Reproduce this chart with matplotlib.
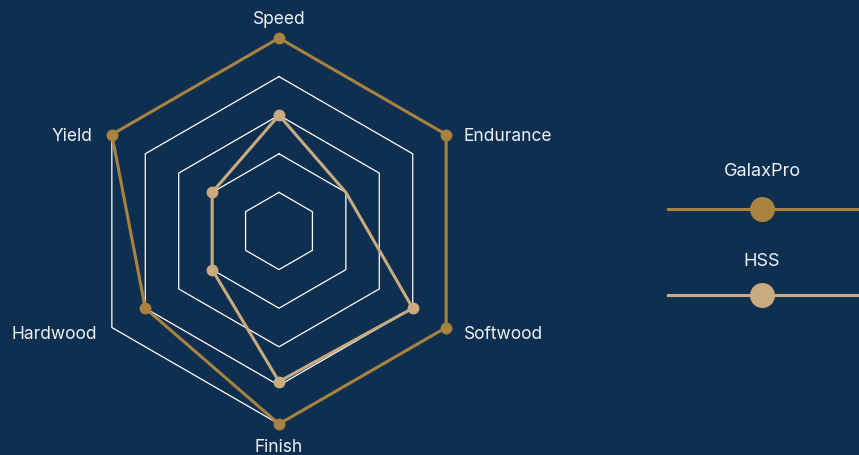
import numpy as np
import matplotlib
matplotlib.use("Agg")
import matplotlib.pyplot as plt
from matplotlib.lines import Line2D

plt.rcParams['font.family'] = ['Inter', 'DejaVu Sans']

categories = ["Speed", "Endurance", "Softwood", "Finish", "Hardwood", "Yield"]
galaxpro = [5, 5, 5, 5, 4, 5]
hss = [3, 2, 4, 3.9, 2, 2]
series_names = ["GalaxPro", "HSS"]
levels = [1, 2, 3, 4, 5]

bg = "#0f2f50"
gold = "#a8823f"
tan = "#c9ab80"
txt = "#eef1f4"

W, H = 859, 455
fig = plt.figure(figsize=(W / 100, H / 100), dpi=100, facecolor=bg)

cx, cy, R = 279, 231, 193
ax = fig.add_axes([(cx - R) / W, (H - cy - R) / H, 2 * R / W, 2 * R / H],
                  projection='polar', facecolor='none')
ax.set_theta_offset(np.pi / 2)
ax.set_theta_direction(-1)
ax.set_ylim(0, 5)
ax.grid(False)
ax.spines['polar'].set_visible(False)
ax.set_xticks([])
ax.set_yticks([])

n = len(categories)
angles = np.linspace(0, 2 * np.pi, n, endpoint=False)
closed = np.append(angles, angles[0])

# hexagon grid
for lv in levels:
    ax.plot(closed, [lv] * (n + 1), color="white", lw=0.9, zorder=1, clip_on=False)

ax.plot(closed, galaxpro + galaxpro[:1], color=gold, lw=2.2, marker='o',
        ms=7.5, markevery=list(range(n)), zorder=3, clip_on=False)
ax.plot(closed, hss + hss[:1], color=tan, lw=2.2, marker='o',
        ms=7.5, markevery=[0, 2, 3, 4, 5], zorder=4, clip_on=False)

# axis labels
offsets = [(0, 18, 'center'), (17, -2, 'left'), (18, -7, 'left'),
           (0, -23, 'center'), (-15, -7, 'right'), (-19, -2, 'right')]
for a, lab, (dx, dy, ha) in zip(angles, categories, offsets):
    ax.annotate(lab, (a, 5), xytext=(dx, dy), textcoords='offset pixels',
                ha=ha, va='center', color=txt, fontsize=12.5, annotation_clip=False)

# legend
leg_y = [209, 295]
label_y = [171, 262]
for name, col, y, ty in zip(series_names, [gold, tan], leg_y, label_y):
    yf = (H - y) / H
    fig.add_artist(Line2D([668 / W, 1.0], [yf, yf], transform=fig.transFigure,
                          color=col, lw=2.2))
    fig.add_artist(Line2D([762 / W], [yf], transform=fig.transFigure,
                          color=col, marker='o', ms=17, lw=0))
    fig.text(762 / W, (H - ty) / H, name, ha='center', va='center',
             color=txt, fontsize=13)

fig.savefig("out.png", dpi=100, facecolor=bg)
